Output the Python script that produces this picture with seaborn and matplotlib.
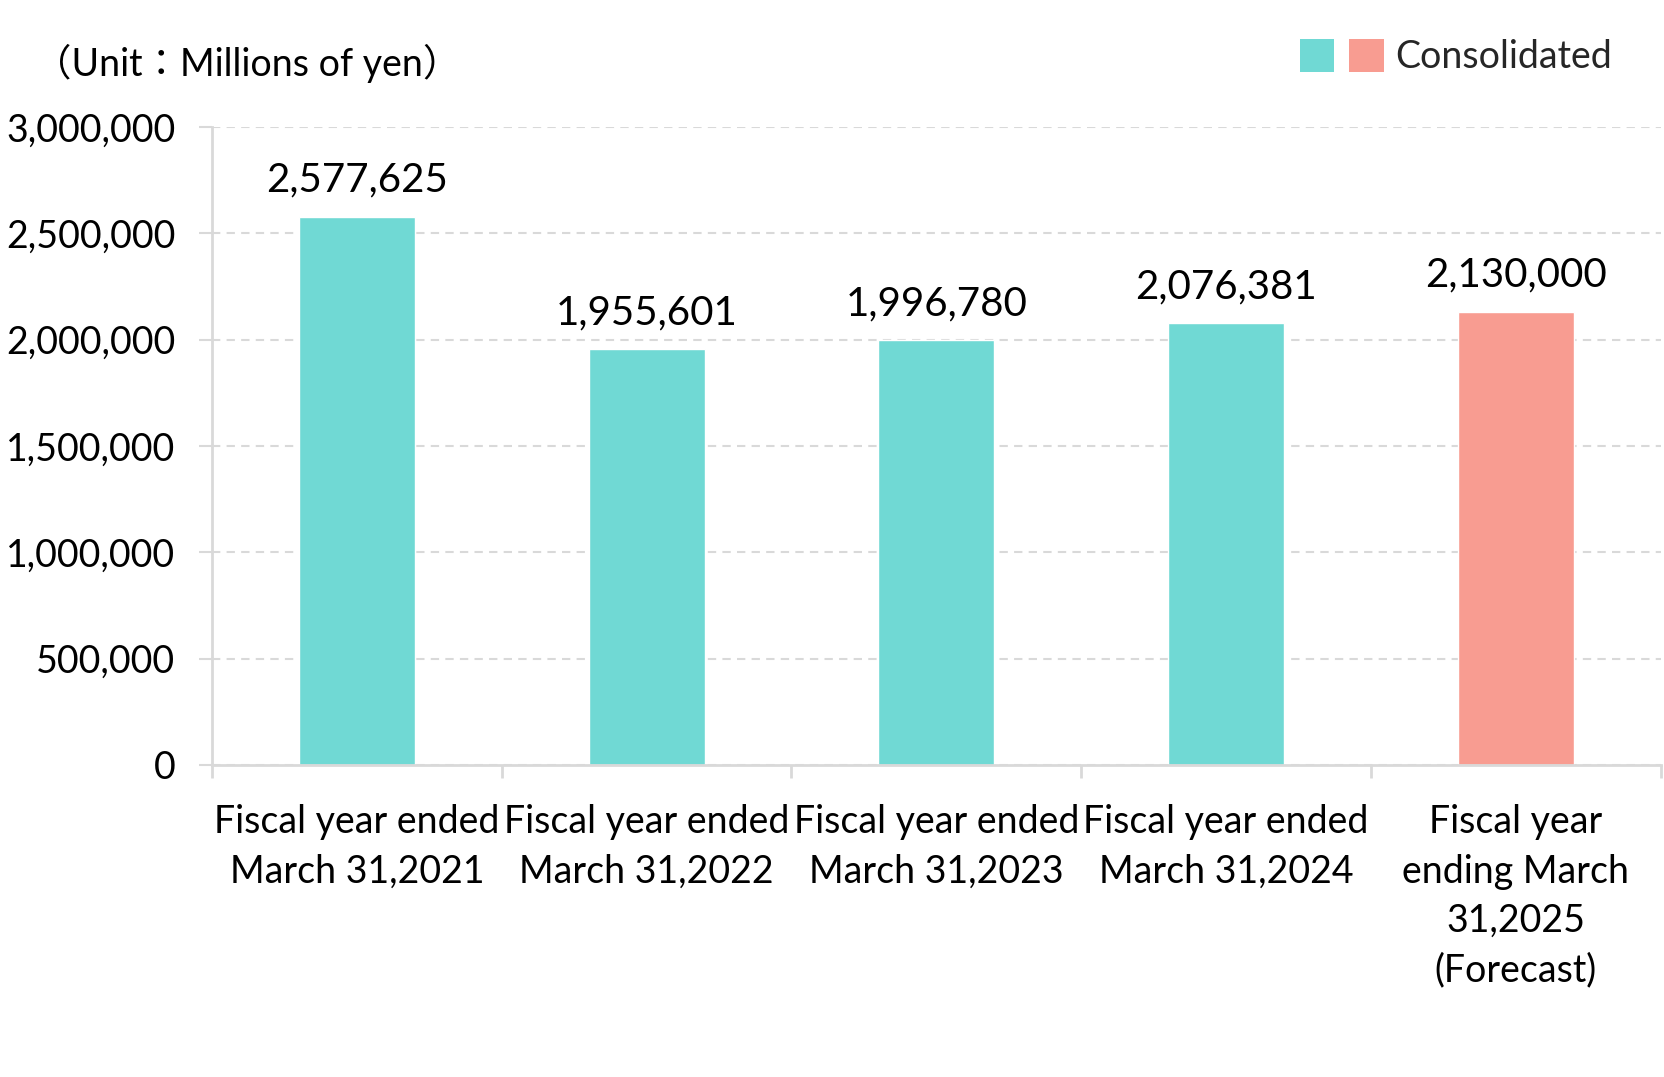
import matplotlib
matplotlib.use("Agg")
import matplotlib.pyplot as plt
import seaborn as sns
import pandas as pd
from matplotlib.patches import Patch
from matplotlib.legend_handler import HandlerTuple
from matplotlib.ticker import FuncFormatter, FixedLocator

# ---- data ----
categories = [
    "Fiscal year ended\nMarch 31,2021",
    "Fiscal year ended\nMarch 31,2022",
    "Fiscal year ended\nMarch 31,2023",
    "Fiscal year ended\nMarch 31,2024",
    "Fiscal year\nending March\n31,2025\n(Forecast)",
]
values = [2577625, 1955601, 1996780, 2076381, 2130000]
bar_colors = ["#70D9D4", "#70D9D4", "#70D9D4", "#70D9D4", "#F89C91"]
legend_colors = ["#70D9D4", "#F89C91"]
yticks = [0, 500000, 1000000, 1500000, 2000000, 2500000, 3000000]
unit_label = "（Unit：Millions of yen）"
legend_label = "Consolidated"

sns.set_theme(style="white")
plt.rcParams["font.family"] = ["Lato", "Noto Sans CJK JP", "DejaVu Sans"]

fig = plt.figure(figsize=(16.64, 10.77), dpi=100)
ax = fig.add_axes([0.1274, 0.2897, 0.8706, 0.5924])

df = pd.DataFrame({"cat": categories, "val": values})
sns.barplot(data=df, x="cat", y="val", hue="cat", palette=bar_colors,
            width=0.4, legend=False, ax=ax, saturation=1)

ax.set_xlim(-0.5, 4.5)
ax.set_ylim(0, 3000000)
ax.set_xlabel("")
ax.set_ylabel("")

grid_c = "#d9d9d9"
ax.set_axisbelow(True)
ax.yaxis.set_major_locator(FixedLocator(yticks))
ax.yaxis.set_major_formatter(FuncFormatter(lambda v, p: f"{int(v):,}"))
ax.yaxis.grid(True, linestyle=(0, (4, 3)), color=grid_c, linewidth=1.5)
ax.xaxis.grid(False)
for s in ["top", "right"]:
    ax.spines[s].set_visible(False)
for s in ["left", "bottom"]:
    ax.spines[s].set_color(grid_c)
    ax.spines[s].set_linewidth(2)

ax.tick_params(axis="y", which="major", length=9.4, width=1.5, color=grid_c,
               labelsize=27, pad=17, labelcolor="black", left=True)
ax.set_xticks(range(len(categories)))
ax.set_xticklabels(categories, fontsize=27, color="black", linespacing=1.47)
ax.set_xticks([i - 0.5 for i in range(len(categories) + 1)], minor=True)
ax.tick_params(axis="x", which="major", length=0, pad=28)
ax.tick_params(axis="x", which="minor", length=9.4, width=2, color=grid_c, bottom=True)

for cont in ax.containers:
    ax.bar_label(cont, labels=[f"{int(b.get_height()):,}" for b in cont],
                 padding=13, fontsize=29, color="black")

fig.text(34 / 1664, 1 - 63 / 1077, unit_label, fontsize=27, va="center", ha="left",
         color="black")

p1 = Patch(facecolor=legend_colors[0], edgecolor="none")
p2 = Patch(facecolor=legend_colors[1], edgecolor="none")
fig.legend([(p1, p2)], [legend_label],
           handler_map={tuple: HandlerTuple(ndivide=None, pad=0.4)},
           loc="center right", bbox_to_anchor=(1612 / 1664, 1 - 57 / 1077),
           frameon=False, fontsize=27, handlelength=2.25, handleheight=1.0,
           handletextpad=0.3, borderpad=0, borderaxespad=0)

fig.savefig("out.png", dpi=100)
